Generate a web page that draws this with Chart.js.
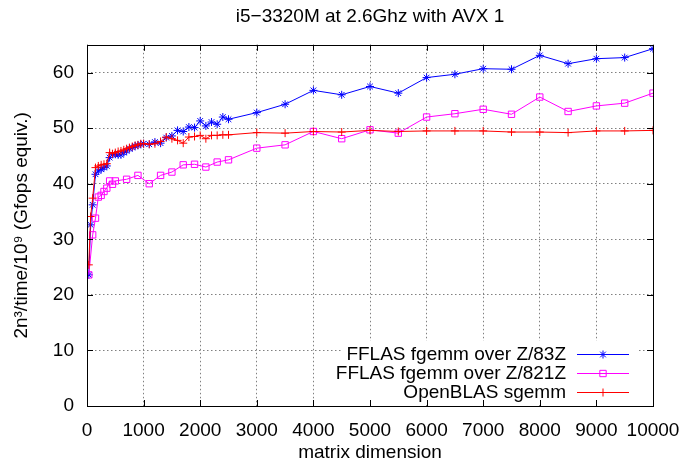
<!DOCTYPE html>
<html lang="en">
<head>
  <meta charset="UTF-8"/>
  <title>i5-3320M fgemm</title>
  <script src="https://cdn.jsdelivr.net/npm/chart.js"></script>
  <style>
    body { margin: 0; background: #fff; }
    .wrap { width: 684px; height: 460px; }
  </style>
</head>
<body>
<div class="wrap"><canvas id="perf"></canvas></div>

<script>
  // matrix dimensions
  const dimsDense = [32, 64, 100, 150, 200, 250, 300, 350, 400, 450, 500, 550, 600, 650, 700, 750, 800, 850, 900, 950,
    1000, 1100, 1200, 1300, 1400, 1500, 1600, 1700, 1800, 1900, 2000, 2100, 2200, 2300, 2400, 2500,
    3000, 3500, 4000, 4500, 5000, 5500, 6000, 6500, 7000, 7500, 8000, 8500, 9000, 9500, 10000];
  const dimsSparse = [32, 100, 150, 200, 250, 300, 350, 400, 450, 500, 700, 900, 1100, 1300, 1500, 1700, 1900, 2100, 2300, 2500,
    3000, 3500, 4000, 4500, 5000, 5500, 6000, 6500, 7000, 7500, 8000, 8500, 9000, 9500, 10000];

  // Gfops equiv.
  const fflas83 = [23.6, 32.6, 36.2, 41.7, 42.3, 42.6, 42.9, 43.2, 44.7, 45.3, 45.3, 45.2, 45.2, 45.6, 45.9, 46.3, 46.5, 46.8, 46.9, 47.1,
    47.2, 47.1, 47.5, 47.3, 48.3, 48.6, 49.6, 49.4, 50.2, 50.1, 51.3, 50.4, 51.1, 50.7, 52.0, 51.6,
    52.8, 54.3, 56.8, 56.0, 57.5, 56.3, 59.1, 59.7, 60.7, 60.6, 63.1, 61.6, 62.5, 62.7, 64.3];
  const fflas821 = [23.6, 30.8, 33.8, 37.6, 37.9, 38.6, 39.2, 40.5, 39.9, 40.5, 40.8, 41.5, 40.0, 41.5, 42.1, 43.4, 43.5, 43.0, 43.9, 44.3,
    46.4, 47.0, 49.4, 48.1, 49.7, 49.1, 52.0, 52.6, 53.4, 52.5, 55.6, 53.0, 54.0, 54.5, 56.3];
  const openblas = [25.4, 34.1, 37.4, 42.9, 43.2, 43.4, 43.5, 43.6, 45.6, 45.4, 45.6, 45.8, 45.9, 46.1, 46.3, 46.5, 46.7, 46.9, 47.0, 47.2,
    47.2, 47.1, 47.2, 47.6, 48.4, 48.1, 47.8, 47.3, 48.4, 48.5, 48.7, 48.1, 48.7, 48.7, 48.8, 48.8,
    49.2, 49.1, 49.4, 49.3, 49.6, 49.4, 49.5, 49.5, 49.5, 49.3, 49.3, 49.2, 49.5, 49.5, 49.6];

  const seriesNames = ["FFLAS fgemm over Z/83Z", "FFLAS fgemm over Z/821Z", "OpenBLAS sgemm"];
  const seriesColors = ["#0000ff", "#ff00ff", "#ff0000"];
  const seriesMarks = ["star", "rect", "cross"];

  const FONT = "'Liberation Sans', Arial, sans-serif";
  const FS = 19;

  function pts(xs, ys) {
    return xs.map((x, i) => ({ x: x, y: ys[i] }));
  }

  // gnuplot style key, bottom right, with a white box under it
  const keyPlugin = {
    id: "gnuKey",
    beforeDatasetsDraw(chart) {
      const ctx = chart.ctx;
      const a = chart.chartArea;
      ctx.save();
      ctx.fillStyle = "#fff";
      ctx.fillRect(a.right - 312, a.bottom - 65, 298, 64);
      ctx.restore();
    },
    afterDatasetsDraw(chart) {
      const ctx = chart.ctx;
      const a = chart.chartArea;
      ctx.save();
      ctx.font = FS + "px " + FONT;
      ctx.textAlign = "right";
      ctx.textBaseline = "middle";
      chart.data.datasets.forEach((ds, i) => {
        const y = Math.round(a.bottom) - 52 + i * 19;
        ctx.fillStyle = "#000";
        ctx.fillText(ds.label, a.right - 87, y + 1);
        ctx.strokeStyle = ds.borderColor;
        ctx.fillStyle = "rgba(0,0,0,0)";
        ctx.lineWidth = 1;
        ctx.beginPath();
        ctx.moveTo(a.right - 76, y + 0.5);
        ctx.lineTo(a.right - 24, y + 0.5);
        ctx.stroke();
        Chart.helpers.drawPoint(ctx, {
          pointStyle: ds.pointStyle, radius: ds.pointRadius, borderWidth: 1, rotation: 0
        }, a.right - 50, y + 0.5);
      });
      ctx.restore();
    },
    afterDraw(chart) {
      const ctx = chart.ctx;
      const a = chart.chartArea;
      const xs = chart.scales.x, ys = chart.scales.y;
      ctx.save();
      ctx.strokeStyle = "#000";
      ctx.lineWidth = 1;
      ctx.strokeRect(Math.round(a.left) + 0.5, Math.round(a.top) + 0.5,
        Math.round(a.right - a.left), Math.round(a.bottom - a.top));
      ctx.beginPath();
      xs.ticks.forEach(t => {
        const px = Math.round(xs.getPixelForValue(t.value)) + 0.5;
        ctx.moveTo(px, a.bottom); ctx.lineTo(px, a.bottom - 6);
        ctx.moveTo(px, a.top); ctx.lineTo(px, a.top + 6);
      });
      ys.ticks.forEach(t => {
        const py = Math.round(ys.getPixelForValue(t.value)) + 0.5;
        ctx.moveTo(a.left, py); ctx.lineTo(a.left + 6, py);
        ctx.moveTo(a.right, py); ctx.lineTo(a.right - 6, py);
      });
      ctx.stroke();
      ctx.restore();
    }
  };

  const sets = [pts(dimsDense, fflas83), pts(dimsSparse, fflas821), pts(dimsDense, openblas)];

  new Chart(document.getElementById("perf"), {
    type: "scatter",
    data: {
      datasets: sets.map((d, i) => ({
        label: seriesNames[i],
        data: d,
        showLine: true,
        borderColor: seriesColors[i],
        backgroundColor: "rgba(0,0,0,0)",
        borderWidth: 1,
        pointStyle: seriesMarks[i],
        pointRadius: i === 1 ? 4.5 : 4,
        pointBorderWidth: 1,
        pointBorderColor: seriesColors[i],
        pointBackgroundColor: "rgba(0,0,0,0)",
        order: 3 - i
      }))
    },
    options: {
      responsive: true,
      maintainAspectRatio: false,
      animation: false,
      layout: { padding: { left: 0, right: 31, top: 0, bottom: 0 } },
      plugins: {
        legend: { display: false },
        tooltip: { enabled: false },
        title: {
          display: true,
          text: "i5\u22123320M at 2.6Ghz with AVX 1",
          fullSize: false,
          color: "#000",
          font: { family: FONT, size: FS, weight: "normal" },
          padding: { top: 5, bottom: 17 }
        }
      },
      scales: {
        x: {
          type: "linear",
          min: 0,
          max: 10000,
          afterFit: s => { s.height = 54; s.paddingRight = 0; },
          ticks: {
            stepSize: 1000,
            autoSkip: false,
            color: "#000",
            padding: 13,
            maxRotation: 0,
            callback: v => String(v),
            font: { family: FONT, size: FS }
          },
          grid: { color: "#808080", lineWidth: 1, drawTicks: false },
          border: { display: false, dash: [1.5, 2.5] },
          title: {
            display: true,
            text: "matrix dimension",
            color: "#000",
            font: { family: FONT, size: FS },
            padding: { top: 0, bottom: -4 }
          }
        },
        y: {
          min: 0,
          max: 65,
          afterFit: s => { s.width = 87; },
          afterBuildTicks: s => { s.ticks = s.ticks.filter(t => t.value % 10 === 0); },
          ticks: {
            stepSize: 10,
            color: "#000",
            padding: 13,
            font: { family: FONT, size: FS }
          },
          grid: { color: "#808080", lineWidth: 1, drawTicks: false },
          border: { display: false, dash: [1.5, 2.5] },
          title: {
            display: true,
            text: "2n\u00b3/time/10\u2079 (Gfops equiv.)",
            color: "#000",
            font: { family: FONT, size: FS },
            padding: { top: 10, bottom: 0 }
          }
        }
      }
    },
    plugins: [keyPlugin]
  });
</script>
</body>
</html>
